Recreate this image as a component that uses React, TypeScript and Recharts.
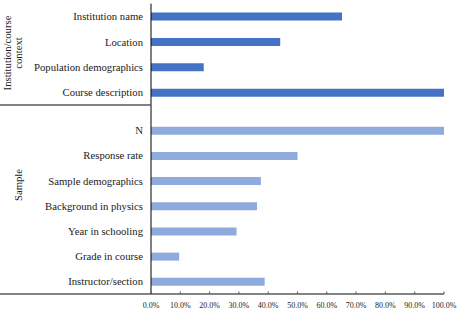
import { BarChart, Bar, XAxis, YAxis } from "recharts";

const contextLabels = [
    "Institution name",
    "Location",
    "Population demographics",
    "Course description",
];
const contextValues = [0.652, 0.441, 0.18, 1.0];

const sampleLabels = [
    "N",
    "Response rate",
    "Sample demographics",
    "Background in physics",
    "Year in schooling",
    "Grade in course",
    "Instructor/section",
];
const sampleValues = [1.0, 0.5, 0.375, 0.362, 0.292, 0.096, 0.388];

const xTicks = [0, 0.1, 0.2, 0.3, 0.4, 0.5, 0.6, 0.7, 0.8, 0.9, 1.0];

const groupLabels = ["Institution/course", "context", "Sample"];

const FONT = "'Liberation Serif', 'Times New Roman', serif";
const TEXT = "#1a1a1a";
const AXIS_GRAY = "#595959";

const contextData = contextLabels.map((name, i) => ({ name, value: contextValues[i] }));
const sampleData = sampleLabels.map((name, i) => ({ name, value: sampleValues[i] }));

// plain <text> so recharts doesn't wrap the long names
function CategoryTick(props: any) {
    const { x, y, payload } = props;
    return (
        <text
            x={x}
            y={y}
            textAnchor="end"
            dominantBaseline="central"
            fontSize={10.7}
            fontFamily={FONT}
            fill={TEXT}
        >
            {payload.value}
        </text>
    );
}

function PercentTick(props: any) {
    const { x, y, payload } = props;
    return (
        <g>
            <line x1={x} x2={x} y1={y - 8} y2={y - 10.5} stroke={AXIS_GRAY} strokeWidth={1} />
            <text
                x={x}
                y={y}
                dy="0.71em"
                textAnchor="middle"
                fontSize={8}
                fontFamily={FONT}
                fill={TEXT}
            >
                {(payload.value * 100).toFixed(1) + "%"}
            </text>
        </g>
    );
}

export default function App() {
    return (
        <div style={{ position: "absolute", left: 0, top: 0, width: 463, height: 314, background: "#fff" }}>
            <div style={{ position: "absolute", left: 0, top: 0 }}>
                <BarChart
                    width={463}
                    height={105}
                    data={contextData}
                    layout="vertical"
                    margin={{ top: 3.6, right: 19, bottom: 0, left: 1 }}
                >
                    <XAxis type="number" domain={[0, 1]} ticks={xTicks} hide />
                    <YAxis
                        type="category"
                        dataKey="name"
                        width={150}
                        axisLine={{ stroke: "#000", strokeWidth: 1 }}
                        tickLine={false}
                        tickSize={0}
                        tickMargin={8}
                        tick={<CategoryTick />}
                        interval={0}
                    />
                    <Bar dataKey="value" fill="#4472C4" barSize={8} isAnimationActive={false} />
                </BarChart>
            </div>
            <div style={{ position: "absolute", left: 0, top: 105 }}>
                <BarChart
                    width={463}
                    height={209}
                    data={sampleData}
                    layout="vertical"
                    margin={{ top: 0, right: 19, bottom: 0, left: 1 }}
                >
                    <XAxis
                        type="number"
                        domain={[0, 1]}
                        ticks={xTicks}
                        interval={0}
                        height={20}
                        axisLine={{ stroke: AXIS_GRAY, strokeWidth: 1.5 }}
                        tickLine={false}
                        tickSize={0}
                        tickMargin={8}
                        tick={<PercentTick />}
                    />
                    <YAxis
                        type="category"
                        dataKey="name"
                        width={150}
                        padding={{ top: 12.7, bottom: 0 }}
                        axisLine={{ stroke: "#000", strokeWidth: 1 }}
                        tickLine={false}
                        tickSize={0}
                        tickMargin={8}
                        tick={<CategoryTick />}
                        interval={0}
                    />
                    <Bar dataKey="value" fill="#8FAADC" barSize={8} isAnimationActive={false} />
                </BarChart>
            </div>
            <svg
                width={463}
                height={314}
                style={{ position: "absolute", left: 0, top: 0, pointerEvents: "none" }}
            >
                <line x1={0} x2={151} y1={105} y2={105} stroke={AXIS_GRAY} strokeWidth={1.5} />
                <line x1={0} x2={151} y1={294} y2={294} stroke={AXIS_GRAY} strokeWidth={1.5} />
                <g fontFamily={FONT} fontSize={10.7} fill={TEXT} textAnchor="middle">
                    <text x={11} y={53} transform="rotate(-90, 11, 53)">{groupLabels[0]}</text>
                    <text x={22} y={53} transform="rotate(-90, 22, 53)">{groupLabels[1]}</text>
                    <text x={21.5} y={185} transform="rotate(-90, 21.5, 185)">{groupLabels[2]}</text>
                </g>
            </svg>
        </div>
    );
}
